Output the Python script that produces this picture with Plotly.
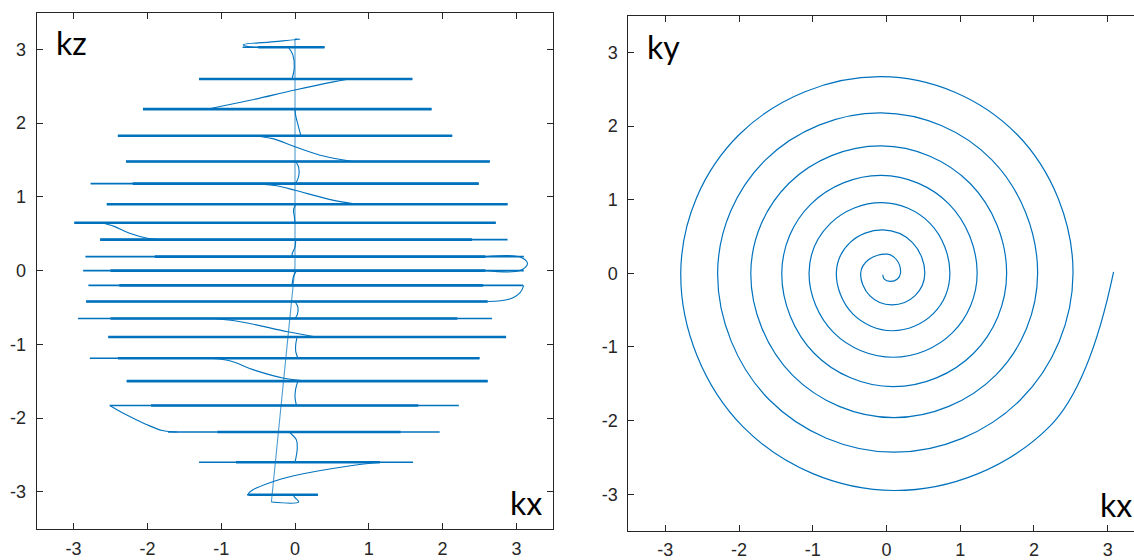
import plotly.graph_objects as go

# ---------------- Left panel: stack of readout lines (kx vs kz) ----------------
kz_levels = [3.03, 2.60, 2.19, 1.83, 1.48, 1.18, 0.90, 0.65, 0.42, 0.19, 0.00,
             -0.20, -0.42, -0.65, -0.90, -1.19, -1.50, -1.83, -2.19, -2.60, -3.04]
line_start = [-0.71, -1.30, -2.06, -2.40, -2.29, -2.77, -2.55, -2.99, -2.64, -2.84, -2.87,
              -2.80, -2.83, -2.94, -2.53, -2.78, -2.28, -2.51, -1.72, -1.30, -0.65]
line_end = [0.40, 1.59, 1.85, 2.13, 2.64, 2.49, 2.88, 2.72, 2.88, 3.10, 3.10,
            3.09, 2.61, 2.67, 2.86, 2.50, 2.61, 2.22, 1.96, 1.60, 0.31]
thick_start = [-0.50, -1.30, -2.06, -2.40, -2.29, -2.20, -2.55, -2.99, -2.64, -1.90, -2.50,
               -2.38, -2.83, -2.50, -2.53, -2.40, -2.28, -1.95, -1.05, -0.80, -0.63]
thick_end = [0.40, 1.59, 1.85, 2.13, 2.64, 2.49, 2.88, 2.72, 2.40, 2.58, 2.58,
             2.55, 2.61, 2.20, 2.86, 2.50, 2.61, 1.67, 1.43, 1.15, 0.31]

# central (slightly tilted) blip line
spine_kx = [0.00, 0.00, 0.00, -0.32]
spine_kz = [3.14, 1.50, 0.05, -3.14]

# transitions between readout lines
trans_kx = [
    [0.00, 0.07, -0.35, -0.70, -0.62, -0.30],
    [-0.09, -0.03, -0.01, -0.04],
    [0.74, 0.52, 0.00, -0.61, -1.19],
    [0.00, 0.01, 0.04, 0.08],
    [-0.55, -0.30, 0.00, 0.40, 0.78],
    [0.01, 0.05, 0.05, 0.01],
    [-0.55, -0.25, 0.00, 0.45, 0.84],
    [0.01, -0.02, -0.01, 0.00],
    [-2.62, -2.45, -2.25, -2.00, -1.73],
    [0.01, 0.00, -0.04, -0.03],
    [2.58, 3.05, 3.15, 3.05, 2.58],
    [0.02, -0.02, -0.04],
    [3.10, 3.05, 2.90, 2.61],
    [0.00, 0.04, 0.03, 0.00],
    [-1.09, -0.70, -0.10, 0.29],
    [0.03, 0.01, 0.01, 0.04],
    [-1.19, -0.90, -0.55, -0.15, 0.19],
    [0.04, 0.01, 0.00, 0.02],
    [-2.51, -2.30, -2.03, -1.80, -1.60],
    [-0.08, 0.02, 0.03, 0.00],
    [1.16, 0.80, 0.00, -0.35, -0.58, -0.63, -0.55],
    [-0.32, 0.05, 0.00, -0.03],
]
trans_kz = [
    [3.14, 3.14, 3.10, 3.065, 3.035, 3.03],
    [3.03, 2.93, 2.75, 2.60],
    [2.60, 2.56, 2.45, 2.31, 2.19],
    [2.19, 2.10, 1.98, 1.83],
    [1.83, 1.79, 1.68, 1.55, 1.48],
    [1.48, 1.40, 1.28, 1.18],
    [1.18, 1.15, 1.09, 0.97, 0.90],
    [0.90, 0.82, 0.74, 0.65],
    [0.65, 0.60, 0.51, 0.44, 0.42],
    [0.42, 0.32, 0.22, 0.19],
    [0.19, 0.185, 0.095, 0.00, 0.00],
    [0.00, -0.08, -0.20],
    [-0.20, -0.30, -0.39, -0.42],
    [-0.42, -0.50, -0.60, -0.65],
    [-0.65, -0.70, -0.83, -0.90],
    [-0.90, -1.00, -1.10, -1.19],
    [-1.19, -1.22, -1.35, -1.46, -1.50],
    [-1.50, -1.60, -1.72, -1.83],
    [-1.83, -1.95, -2.08, -2.17, -2.19],
    [-2.19, -2.30, -2.42, -2.60],
    [-2.60, -2.64, -2.78, -2.88, -2.98, -3.03, -3.04],
    [-3.14, -3.14, -3.08, -3.04],
]

# ---------------- Right panel: spiral (kx vs ky) ----------------
spiral_kx = [-0.05, -0.03, 0.05, 0.149, 0.19, 0.137, 0.01, -0.245, -0.35, -0.227, 0.07, 0.388,
             0.52, 0.353, -0.05, -0.495, -0.68, -0.457, 0.08, 0.632, 0.86, 0.591, -0.06, -0.760,
             -1.05, -0.716, 0.09, 0.896, 1.23, 0.849, -0.07, -1.025, -1.42, -0.978, 0.09, 1.179,
             1.63, 1.132, -0.07, -1.322, -1.84, -1.272, 0.10, 1.479, 2.05, 1.429, -0.07, -1.640,
             -2.29, -1.590, 0.10, 1.818, 2.53, 1.768, -0.07, -1.993, -2.79, -1.944, 0.10, 2.207,
             3.08]
spiral_ky = [-0.02, -0.08, -0.11, -0.078, 0.00, 0.184, 0.26, 0.184, 0.00, -0.304, -0.43, -0.304,
             0.00, 0.417, 0.59, 0.417, 0.00, -0.552, -0.78, -0.552, 0.00, 0.679, 0.96, 0.679,
             0.00, -0.806, -1.14, -0.806, 0.00, 0.940, 1.33, 0.940, 0.00, -1.089, -1.54, -1.089,
             0.00, 1.223, 1.73, 1.223, 0.00, -1.386, -1.96, -1.386, 0.00, 1.541, 2.18, 1.541,
             0.00, -1.718, -2.43, -1.718, 0.00, 1.888, 2.67, 1.888, 0.00, -2.086, -2.95, -2.086,
             0.02]

tick_vals = [-3, -2, -1, 0, 1, 2, 3]
tick_text = ["-3", "-2", "-1", "0", "1", "2", "3"]

BLUE = "#0072BD"
AXC = "#262626"
W, H = 1134, 560

# ---------- build segment arrays ----------
thin_x, thin_y, thick_x, thick_y = [], [], [], []
for z, a, b, c, d in zip(kz_levels, line_start, line_end, thick_start, thick_end):
    thin_x += [a, b, None]
    thin_y += [z, z, None]
    thick_x += [c, d, None]
    thick_y += [z, z, None]

tr_x, tr_y = [], []
for xs, zs in zip(trans_kx, trans_kz):
    tr_x += xs + [None]
    tr_y += zs + [None]

fig = go.Figure()
fig.add_trace(go.Scatter(x=spine_kx, y=spine_kz, mode="lines",
                         line=dict(color="rgba(0,114,189,0.7)", width=1.1),
                         xaxis="x", yaxis="y", hoverinfo="skip"))
fig.add_trace(go.Scatter(x=tr_x, y=tr_y, mode="lines",
                         line=dict(color=BLUE, width=1.1, shape="spline", smoothing=1.0),
                         xaxis="x", yaxis="y", hoverinfo="skip"))
fig.add_trace(go.Scatter(x=thin_x, y=thin_y, mode="lines",
                         line=dict(color=BLUE, width=1.6),
                         xaxis="x", yaxis="y", hoverinfo="skip"))
fig.add_trace(go.Scatter(x=thick_x, y=thick_y, mode="lines",
                         line=dict(color=BLUE, width=2.6),
                         xaxis="x", yaxis="y", hoverinfo="skip"))
fig.add_trace(go.Scatter(x=spiral_kx, y=spiral_ky, mode="lines",
                         line=dict(color=BLUE, width=1.2, shape="spline", smoothing=1.1),
                         xaxis="x2", yaxis="y2", hoverinfo="skip"))

tickfont = dict(family="Liberation Sans, Arial, sans-serif", size=18, color=AXC)
common = dict(showgrid=False, zeroline=False, showline=True, linecolor=AXC, linewidth=1,
              ticks="inside", ticklen=6, tickwidth=1, tickcolor=AXC, automargin=False,
              tickvals=tick_vals, ticktext=tick_text, tickfont=tickfont)

L = dict(x0=36.7, x1=553.3, y0=12.6, y1=528.6)
R = dict(x0=628.4, x1=1134.0, y0=15.6, y1=531.0)

fig.update_layout(
    width=W, height=H, autosize=False,
    margin=dict(l=0, r=0, t=0, b=0, pad=0),
    paper_bgcolor="white", plot_bgcolor="white",
    showlegend=False,
    xaxis=dict(domain=[L["x0"] / W, L["x1"] / W], range=[-3.5, 3.5], anchor="y",
               mirror="ticks", ticklabelstandoff=4, **common),
    yaxis=dict(domain=[1 - L["y1"] / H, 1 - L["y0"] / H], range=[-3.5, 3.5], anchor="x",
               mirror="ticks", ticklabelstandoff=6, **common),
    xaxis2=dict(domain=[R["x0"] / W, R["x1"] / W], range=[-3.5, 3.357], anchor="y2",
                mirror="ticks", ticklabelstandoff=2, **common),
    yaxis2=dict(domain=[1 - R["y1"] / H, 1 - R["y0"] / H], range=[-3.5, 3.5], anchor="x2",
                mirror=False, ticklabelstandoff=6, **common),
)

labfont = dict(family="Lato, sans-serif", size=32, color="black")
ann = [
    ("kz", 55.0, 22.0, "left"),
    ("kx", 543.0, 482.0, "right"),
    ("ky", 646.0, 26.0, "left"),
    ("kx", 1133.0, 484.0, "right"),
]
for txt, px, py, anc in ann:
    fig.add_annotation(text=txt, xref="paper", yref="paper", x=px / W, y=1 - py / H,
                       xanchor=anc, yanchor="top", showarrow=False, font=labfont,
                       borderpad=0)

fig.write_html("out.html", config={"displayModeBar": False},
               post_script="document.body.style.margin='0';document.body.style.overflow='hidden';")
